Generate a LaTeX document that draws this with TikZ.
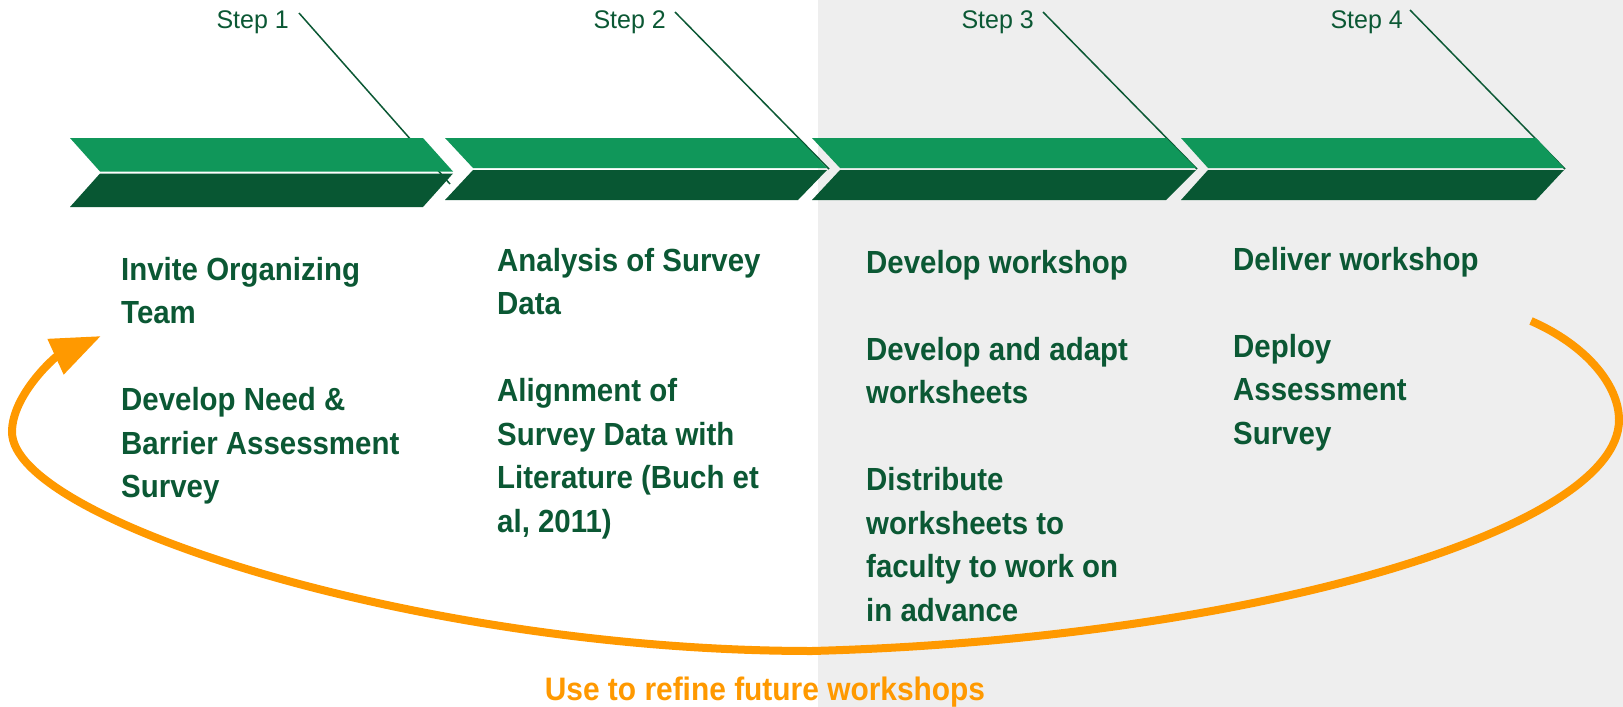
\documentclass[tikz,border=0pt]{standalone}
\usepackage{fontspec}
\setmainfont{Liberation Sans}
\newfontfamily\bodyfont{Liberation Sans}[FakeStretch=0.92]
\newfontfamily\labelfont{Liberation Sans}[FakeStretch=0.98]
\usetikzlibrary{arrows.meta}
\definecolor{lightgreen}{HTML}{10975A}
\definecolor{darkgreen}{HTML}{085733}
\definecolor{textgreen}{HTML}{0B5834}
\definecolor{loop}{HTML}{FF9900}
\definecolor{panelgray}{HTML}{EEEEEE}

% one two-tone chevron: left, notch, top-right, tip, top, middle, bottom
\newcommand\chevronshape[7]{%
  \fill[lightgreen] (#1,#5) -- (#3,#5) -- ({#4-1},{#6-1}) -- ({#2-1},{#6-1}) -- cycle;
  \fill[darkgreen] ({#2-1},{#6+1}) -- ({#4-1},{#6+1}) -- (#3,#7) -- (#1,#7) -- cycle;
}

\begin{document}
\begin{tikzpicture}[x=1pt,y=-1pt,
  steplabel/.style={font=\labelfont\fontsize{25.5}{30}\selectfont, text=textgreen,
    inner sep=0pt, anchor=base east},
  pointer/.style={draw=textgreen, line width=1.5pt},
  taskcol/.style={font=\bodyfont\bfseries\fontsize{32}{43.5}\selectfont,
    text=textgreen, inner sep=0pt, anchor=base west},
  feedback/.style={draw=loop, line width=8pt,
    -{Triangle[length=50pt,width=37pt]}},
]
\useasboundingbox (0,0) rectangle (1623,707);
\fill[white] (0,0) rectangle (1623,707);
\fill[panelgray] (818,0) rectangle (1623,707);

% step labels and their pointers
\node[steplabel] (s1) at (289,28) {Step 1};
\node[steplabel] (s2) at (666,28) {Step 2};
\node[steplabel] (s3) at (1034,28) {Step 3};
\node[steplabel] (s4) at (1403,28) {Step 4};
\coordinate (p1) at (299,13);
\coordinate (p2) at (675,12);
\coordinate (p3) at (1043,12);
\coordinate (p4) at (1410,10);
\coordinate (t1) at (450,184);
\coordinate (t2) at (829,169);
\coordinate (t3) at (1197,169);
\coordinate (t4) at (1565,169);
\draw[pointer] (p1) -- (t1);
\draw[pointer] (p2) -- (t2);
\draw[pointer] (p3) -- (t3);
\draw[pointer] (p4) -- (t4);

% chevron band
\chevronshape{70}{101}{423}{454}{138}{172.5}{207}
\chevronshape{445}{474}{798}{828}{138}{169}{200}
\chevronshape{812}{841}{1166}{1197}{138}{169}{200}
\chevronshape{1181}{1209}{1536}{1565}{138}{169}{200}

% tasks of each step
\node[taskcol] (c1) at (121,280) {\begin{tabular}[t]{@{}l@{}}
Invite Organizing\\ Team\\ \\ Develop Need \&\\ Barrier Assessment\\ Survey
\end{tabular}};
\node[taskcol] (c2) at (497,271) {\begin{tabular}[t]{@{}l@{}}
Analysis of Survey\\ Data\\ \\ Alignment of\\ Survey Data with\\ Literature (Buch et\\ al, 2011)
\end{tabular}};
\node[taskcol] (c3) at (866,273) {\begin{tabular}[t]{@{}l@{}}
Develop workshop\\ \\ Develop and adapt\\ worksheets\\ \\ Distribute\\ worksheets to\\ faculty to work on\\ in advance
\end{tabular}};
\node[taskcol] (c4) at (1233,270) {\begin{tabular}[t]{@{}l@{}}
Deliver workshop\\ \\ Deploy\\ Assessment\\ Survey
\end{tabular}};

% feedback loop back to the first step
\coordinate (a0) at (1531,321);
\coordinate (a1) at (1619,420);
\coordinate (a2) at (812,651);
\coordinate (a3) at (12,432);
\coordinate (a4) at (101,336);
\draw[feedback] (a0) .. controls (1586,345) and (1619,385) .. (a1)
  .. controls (1619,530) and (1250,639) .. (a2)
  .. controls (420,651) and (12,520) .. (a3)
  .. controls (12,395) and (55,357) .. (a4);
\node[font=\bodyfont\bfseries\fontsize{32.5}{38}\selectfont, text=loop,
  inner sep=0pt, anchor=base] (refine) at (765,700) {Use to refine future workshops};
\end{tikzpicture}
\end{document}
